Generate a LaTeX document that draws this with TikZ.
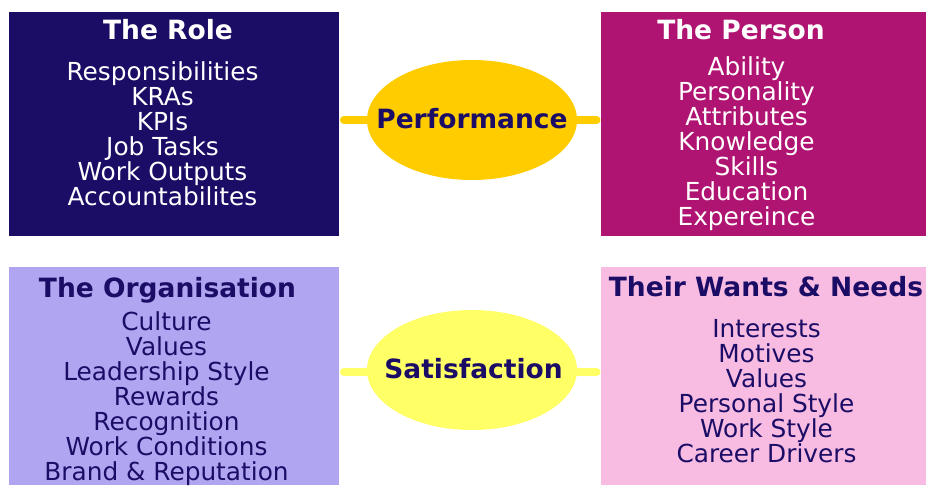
\documentclass[tikz,border=0pt]{standalone}
\usepackage{fontspec}
\setmainfont{DejaVu Sans}
\usetikzlibrary{shapes.geometric}
\definecolor{navy}{RGB}{27,12,102}
\definecolor{magentab}{RGB}{176,20,114}
\definecolor{lavender}{RGB}{176,165,240}
\definecolor{pinkb}{RGB}{248,188,226}
\definecolor{goldy}{RGB}{255,204,0}
\definecolor{lighty}{RGB}{255,255,102}
\begin{document}
\begin{tikzpicture}[x=1pt,y=-1pt,
  box/.style={rectangle, draw=none, inner sep=0pt, anchor=north west},
  ttl/.style={anchor=base, inner sep=0pt, font=\fontsize{26.5}{28}\selectfont\bfseries},
  item/.style={anchor=base, inner sep=0pt, font=\fontsize{24.8}{25}\selectfont},
  oval/.style={ellipse, inner sep=0pt, minimum width=210pt, minimum height=120pt},
  ovaltext/.style={inner sep=0pt, text=navy, font=\fontsize{26.5}{28}\selectfont\bfseries},
  conn/.style={line width=8pt, line cap=round, shorten >=4.5pt}]
\useasboundingbox (0,0) rectangle (926,485);
\fill[white] (0,0) rectangle (926,485);
% boxes
\node[box, fill=navy, minimum width=330pt, minimum height=224pt] (role) at (9,12) {};
\node[box, fill=magentab, minimum width=325pt, minimum height=224pt] (person) at (601,12) {};
\node[box, fill=lavender, minimum width=330pt, minimum height=218pt] (org) at (9,267) {};
\node[box, fill=pinkb, minimum width=325pt, minimum height=218pt] (wants) at (601,267) {};
% ellipses
\node[oval, fill=goldy] (perf) at (472,120) {};
\node[oval, fill=lighty] (sat) at (472,370) {};
% connectors
\draw[conn, goldy] (perf.west) -- (perf.west -| role.east);
\draw[conn, goldy] (perf.east) -- (perf.east -| person.west);
\coordinate (sl) at ([yshift=-2pt]sat.west);
\coordinate (sr) at ([yshift=-2pt]sat.east);
\draw[conn, lighty] (sl) -- (sl -| org.east);
\draw[conn, lighty] (sr) -- (sr -| wants.west);
\node[ovaltext] (perfL) at (472,119) {Performance};
\node[ovaltext] (satL) at (473.5,369) {Satisfaction};
% titles
\node[ttl, text=white] (roleT) at (168,39) {The Role};
\node[ttl, text=white] (personT) at (741,39) {The Person};
\node[ttl, text=navy] (orgT) at (167.5,297) {The Organisation};
\node[ttl, text=navy] (wantsT) at (766,296) {Their Wants \& Needs};
% items
\foreach \t [count=\i] in {Responsibilities,KRAs,KPIs,Job Tasks,Work Outputs,Accountabilites}
  \node[item, text=white] (role-\i) at (162.5,{80+25*(\i-1)}) {\t};
\foreach \t [count=\i] in {Ability,Personality,Attributes,Knowledge,Skills,Education,Expereince}
  \node[item, text=white] (person-\i) at (746.5,{75+25*(\i-1)}) {\t};
\foreach \t [count=\i] in {Culture,Values,Leadership Style,Rewards,Recognition,Work Conditions,Brand \& Reputation}
  \node[item, text=navy] (org-\i) at (166.5,{330+25*(\i-1)}) {\t};
\foreach \t [count=\i] in {Interests,Motives,Values,Personal Style,Work Style,Career Drivers}
  \node[item, text=navy] (wants-\i) at (766.5,{337+25*(\i-1)}) {\t};
\end{tikzpicture}
\end{document}
